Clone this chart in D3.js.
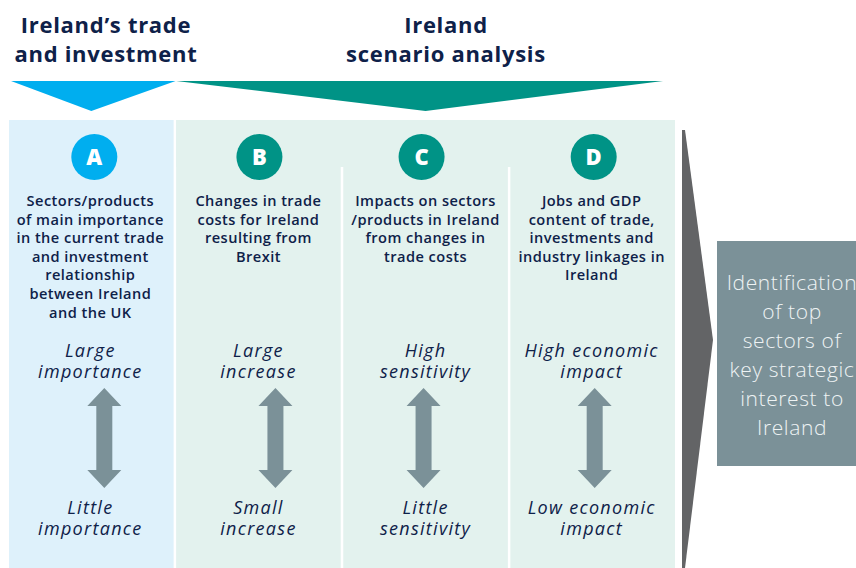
<!DOCTYPE html>
<html>
<head>
<meta charset="utf-8">
<script src="https://cdn.jsdelivr.net/npm/d3@7"></script>
<style>
  html, body { margin: 0; padding: 0; background: #fff; }
  svg { display: block; }
</style>
</head>
<body>
<div id="chart"></div>
<script>
const letters = ["A", "B", "C", "D"];
const descriptions = [
  ["Sectors/products", "of main importance", "in the current trade", "and investment", "relationship", "between Ireland", "and the UK"],
  ["Changes in trade", "costs for Ireland", "resulting from", "Brexit"],
  ["Impacts on sectors", "/products in Ireland", "from changes in", "trade costs"],
  ["Jobs and GDP", "content of trade,", "investments and", "industry linkages in", "Ireland"]
];
const topLabels = [
  ["Large", "importance"],
  ["Large", "increase"],
  ["High", "sensitivity"],
  ["High economic", "impact"]
];
const bottomLabels = [
  ["Little", "importance"],
  ["Small", "increase"],
  ["Little", "sensitivity"],
  ["Low economic", "impact"]
];
const groupTitles = [
  ["Ireland\u2019s trade", "and investment"],
  ["Ireland", "scenario analysis"]
];
const groupColumns = [["A"], ["B", "C", "D"]];
const resultLines = ["Identification", "of top", "sectors of", "key strategic", "interest to", "Ireland"];

const W = 856, H = 568;
const navy = "#0e2149";
const blue = "#00aeef", teal = "#009386";
const arrowGrey = "#7b9198";
const font = "'Open Sans', sans-serif";

const svg = d3.select("#chart").append("svg")
  .attr("width", W).attr("height", H);

const x = d3.scaleBand().domain(letters).range([9, 675]).paddingInner(0.015);
const bw = x.bandwidth();
const colColor = d => d === "A" ? blue : teal;
const bgColor = d => d === "A" ? "#def1fb" : "#e3f2ee";

// small per-column nudges seen in the original layout
const circleShift = [3, 1, -4, 1];
const textShift = [-1, 0, 0, -1];
const arrowShift = [13, 17, -2, 2];

const panelTop = 120;

// panels
svg.selectAll(".panel").data(letters).enter().append("rect")
  .attr("x", d => x(d)).attr("y", panelTop)
  .attr("width", bw).attr("height", H - panelTop)
  .attr("fill", bgColor);

// continuous top band across B-D
svg.append("rect")
  .attr("x", x("B")).attr("y", panelTop)
  .attr("width", x("D") + bw - x("B")).attr("height", 47)
  .attr("fill", "#e3f2ee");

// group titles + triangles
const groups = groupColumns.map((cols, i) => {
  const x0 = i === 0 ? 11 : x(cols[0]);
  const x1 = i === 0 ? x(cols[0]) + bw + 2 : x(cols[cols.length - 1]) + bw - 12;
  return { x0, x1, title: groupTitles[i], color: i === 0 ? blue : teal };
});

svg.selectAll(".tri").data(groups).enter().append("path")
  .attr("d", g => {
    const cx = (g.x0 + g.x1) / 2 - (g.color === teal ? -6 : 2);
    return `M${g.x0},81L${g.x1},81L${cx},111Z`;
  })
  .attr("fill", g => g.color);

groups.forEach((g, i) => {
  const cx = i === 0 ? 106 : 446;
  g.title.forEach((line, j) => {
    svg.append("text")
      .attr("x", cx).attr("y", 33 + j * 29)
      .attr("text-anchor", "middle")
      .attr("font-family", font).attr("font-weight", 700)
      .attr("font-size", 22).attr("letter-spacing", 0.7)
      .attr("fill", navy)
      .text(line);
  });
});

// letter circles
const cols = svg.selectAll(".col").data(letters).enter().append("g");

cols.append("circle")
  .attr("cx", (d, i) => x(d) + bw / 2 + circleShift[i])
  .attr("cy", 157).attr("r", 23)
  .attr("fill", colColor);

cols.append("text")
  .attr("x", (d, i) => x(d) + bw / 2 + circleShift[i])
  .attr("y", 165)
  .attr("text-anchor", "middle")
  .attr("font-family", font).attr("font-weight", 800)
  .attr("font-size", 22).attr("fill", "#fff")
  .text(d => d);

// multi-line text helper: one <text> per line
function lines(arr, y0, step, style) {
  cols.each(function (d, i) {
    const cx = x(d) + bw / 2 + textShift[i];
    const g = d3.select(this);
    arr[i].forEach((t, j) => {
      const el = g.append("text")
        .attr("x", cx).attr("y", y0 + j * step)
        .attr("text-anchor", "middle")
        .attr("font-family", font)
        .attr("fill", navy)
        .text(t);
      style(el);
    });
  });
}

// descriptions
lines(descriptions, 206, 18.6, el => el
  .attr("font-weight", 600).attr("font-size", 14.6).attr("letter-spacing", 0.45));

// italic scale labels
const italic = el => el
  .attr("font-style", "italic").attr("font-size", 18).attr("letter-spacing", 1.3);
lines(topLabels, 357, 21, italic);
lines(bottomLabels, 514, 21, italic);

// double arrows
const yArrow = d3.scaleLinear().domain([0, 1]).range([388, 488]);
cols.append("path")
  .attr("d", (d, i) => {
    const cx = x(d) + bw / 2 + arrowShift[i];
    const t = yArrow(0), b = yArrow(1), hh = 18, hw = 17, sw = 8;
    return `M${cx},${t}L${cx + hw},${t + hh}L${cx + sw},${t + hh}L${cx + sw},${b - hh}` +
      `L${cx + hw},${b - hh}L${cx},${b}L${cx - hw},${b - hh}L${cx - sw},${b - hh}` +
      `L${cx - sw},${t + hh}L${cx - hw},${t + hh}Z`;
  })
  .attr("fill", arrowGrey);

// big grey chevron
svg.append("path")
  .attr("d", "M682,130L685,130L713,340L685,568L682,568Z")
  .attr("fill", "#636466");

// result box
svg.append("rect")
  .attr("x", 717).attr("y", 241)
  .attr("width", 150).attr("height", 225)
  .attr("fill", arrowGrey);

resultLines.forEach((t, j) => {
  svg.append("text")
    .attr("x", 792).attr("y", 290 + j * 29)
    .attr("text-anchor", "middle")
    .attr("font-family", font).attr("font-weight", 300)
    .attr("font-size", 21).attr("letter-spacing", 0.6)
    .attr("fill", "#eef3f4")
    .text(t);
});
</script>
</body>
</html>
